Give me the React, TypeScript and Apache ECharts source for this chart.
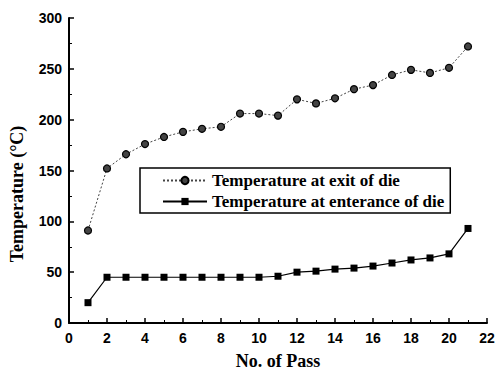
import React, { useEffect, useRef } from "react";
import * as echarts from "echarts";

const passes = [1, 2, 3, 4, 5, 6, 7, 8, 9, 10, 11, 12, 13, 14, 15, 16, 17, 18, 19, 20, 21];
const exitTemp = [91, 152, 166, 176, 183, 188, 191, 193, 206, 206, 204, 220, 216, 221, 230, 234, 244, 249, 246, 251, 272];
const entranceTemp = [20, 45, 45, 45, 45, 45, 45, 45, 45, 45, 46, 50, 51, 53, 54, 56, 59, 62, 64, 68, 93];
const xTicks = { min: 0, max: 22, interval: 2 };
const yTicks = { min: 0, max: 300, interval: 50 };

const sans = "'Liberation Sans', Arial, sans-serif";
const serif = "'Liberation Serif', 'Times New Roman', serif";

export default function App() {
  const ref = useRef<HTMLDivElement>(null);
  useEffect(() => {
    if (!ref.current) return;
    const chart = echarts.init(ref.current, null, { renderer: "svg" });
    const axisCommon = {
      axisLine: { show: true, lineStyle: { color: "#000", width: 2 } },
      axisTick: { show: true, inside: true, length: 5, lineStyle: { color: "#000", width: 1.5 } },
      minorTick: { show: true, splitNumber: 2, length: 3, lineStyle: { color: "#000", width: 1 } },
      splitLine: { show: false },
      axisLabel: { color: "#000", fontFamily: sans, fontWeight: "bold", fontSize: 14 },
      nameTextStyle: { color: "#000", fontFamily: serif, fontWeight: "bold", fontSize: 18 },
    };
    chart.setOption({
      animation: false,
      backgroundColor: "#fff",
      grid: { left: 69, right: 9, top: 18, bottom: 47, containLabel: false, outerBoundsMode: "none" },
      graphic: [
        {
          type: "text",
          x: 17,
          y: 194,
          rotation: Math.PI / 2,
          style: {
            text: "Temperature (°C)",
            fontFamily: serif,
            fontWeight: "bold",
            fontSize: 18,
            fill: "#000",
            align: "center",
            verticalAlign: "middle",
          },
        },
      ],
      xAxis: {
        type: "value",
        ...xTicks,
        ...axisCommon,
        name: "No. of Pass",
        nameLocation: "middle",
        nameGap: 29,
        axisLabel: { ...axisCommon.axisLabel, margin: 8 },
      },
      yAxis: {
        type: "value",
        ...yTicks,
        ...axisCommon,
        axisLabel: { ...axisCommon.axisLabel, margin: 7 },
      },
      legend: {
        left: 140,
        top: 168,
        orient: "vertical",
        borderColor: "#000",
        borderWidth: 1.5,
        borderRadius: 0,
        padding: [4, 6, 3, 22],
        itemGap: 4,
        itemWidth: 44,
        itemHeight: 9,
        textStyle: { color: "#000", fontFamily: serif, fontWeight: "bold", fontSize: 17 },
        data: ["Temperature at exit of die", "Temperature at enterance of die"],
      },
      series: [
        {
          name: "Temperature at exit of die",
          type: "line",
          data: passes.map((p, i) => [p, exitTemp[i]]),
          symbol: "circle",
          symbolSize: 7,
          itemStyle: { color: "#444", borderColor: "#000", borderWidth: 1.2 },
          lineStyle: { color: "#444", width: 1, type: [2, 2] },
        },
        {
          name: "Temperature at enterance of die",
          type: "line",
          data: passes.map((p, i) => [p, entranceTemp[i]]),
          symbol: "rect",
          symbolSize: 7,
          itemStyle: { color: "#000" },
          lineStyle: { color: "#000", width: 1.2 },
        },
      ],
    });
    return () => chart.dispose();
  }, []);
  return (
    <div
      ref={ref}
      style={{ position: "fixed", left: 0, top: 0, width: 496, height: 370 }}
    />
  );
}
